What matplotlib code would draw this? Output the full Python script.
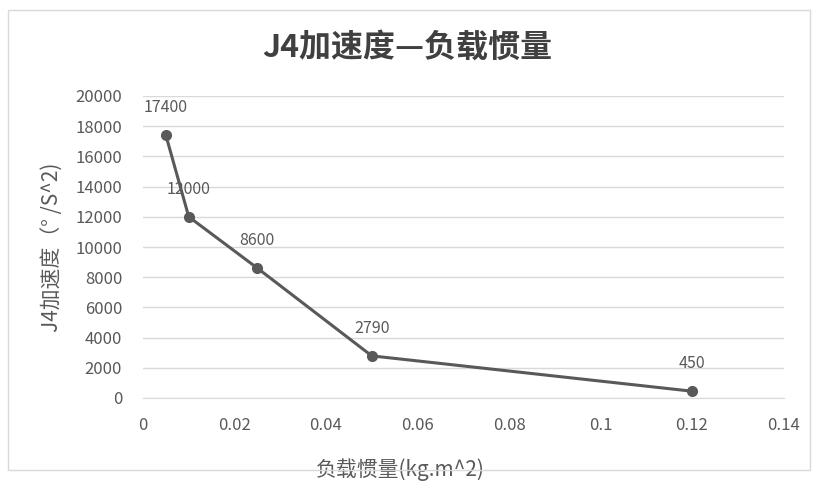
import matplotlib
matplotlib.use("Agg")
import matplotlib.pyplot as plt
from matplotlib.patches import Rectangle

plt.rcParams['font.family'] = ['Noto Sans CJK SC', 'DejaVu Sans']

load_inertia = [0.005, 0.01, 0.025, 0.05, 0.12]
j4_accel = [17400, 12000, 8600, 2790, 450]
x_ticks = [0, 0.02, 0.04, 0.06, 0.08, 0.1, 0.12, 0.14]
x_tick_labels = ['0', '0.02', '0.04', '0.06', '0.08', '0.1', '0.12', '0.14']
y_ticks = list(range(0, 20001, 2000))

line_col = '#595959'
text_col = '#595959'
grid_col = '#d9d9d9'

fig = plt.figure(figsize=(8.14, 4.93), dpi=100)
fig.patch.set_facecolor('white')
# outer chart frame
fig.patches.append(Rectangle((8 / 814, 1 - 470 / 493), 802 / 814, 460 / 493,
                             transform=fig.transFigure, fill=False,
                             edgecolor='#d9d9d9', linewidth=1))

ax = fig.add_axes([143 / 814, 1 - 398 / 493, 640.5 / 814, 302 / 493])
ax.plot(load_inertia, j4_accel, color=line_col, linewidth=2.2,
        marker='o', markersize=7, zorder=3)
for x, y in zip(load_inertia, j4_accel):
    ax.annotate(str(y), (x, y), xytext=(0, 20), textcoords='offset points',
                ha='center', va='center', fontsize=11.5, color=text_col)

ax.set_xlim(0, 0.14)
ax.set_ylim(0, 20000)
ax.set_xticks(x_ticks)
ax.set_xticklabels(x_tick_labels)
ax.set_yticks(y_ticks)
ax.grid(axis='y', color=grid_col, linewidth=1)
ax.set_axisbelow(True)
for s in ['top', 'right', 'left']:
    ax.spines[s].set_visible(False)
ax.spines['bottom'].set_color(grid_col)
ax.tick_params(length=0, labelsize=12, labelcolor=text_col)
ax.tick_params(axis='x', pad=14)
ax.tick_params(axis='y', pad=15)

ax.set_xlabel('负载惯量(kg.m^2)', fontsize=15, color=text_col)
ax.xaxis.set_label_coords((400 - 143) / 640.5, -0.20)
ax.set_ylabel('J4加速度（° /S^2)', fontsize=15, color=text_col)
ax.yaxis.set_label_coords((64 - 143) / 640.5, 0.5)
fig.text(0.5, 1 - 48 / 493, 'J4加速度—负载惯量', ha='center', va='center',
         fontsize=23, fontweight='bold', color='#404040')

fig.savefig('out.png', dpi=100)
